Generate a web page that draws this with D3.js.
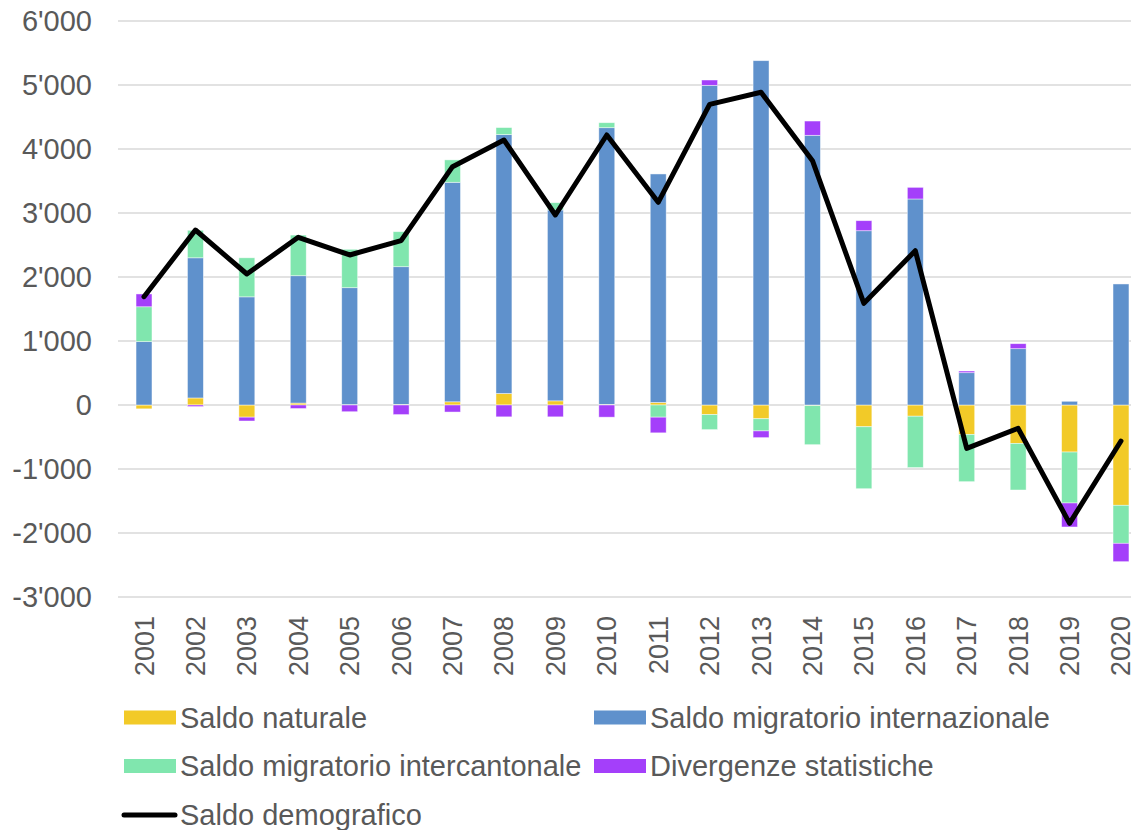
<!DOCTYPE html>
<html><head><meta charset="utf-8">
<script src="https://cdn.jsdelivr.net/npm/d3@7"></script>
<style>html,body{margin:0;padding:0;background:#fff;}svg{display:block;font-family:"Liberation Sans",Arial,sans-serif;}</style>
</head><body>
<svg id="c" width="1131" height="830"></svg>
<script>
const years = ["2001","2002","2003","2004","2005","2006","2007","2008","2009","2010","2011","2012","2013","2014","2015","2016","2017","2018","2019","2020"];
const saldoNaturale = [-60, 110, -190, 30, 5, 10, 50, 180, 65, 10, 40, -150, -215, -10, -340, -175, -460, -600, -735, -1567];
const saldoInternazionale = [990, 2190, 1690, 1990, 1828, 2151, 3430, 4045, 2982, 4323, 3570, 4995, 5380, 4214, 2723, 3219, 505, 880, 58, 1891];
const saldoIntercantonale = [545, 430, 610, 635, 600, 547, 350, 110, 114, 78, -190, -235, -190, -610, -968, -803, -738, -728, -796, -594];
const divergenze = [200, -25, -60, -55, -105, -150, -110, -185, -185, -190, -245, 83, -105, 223, 157, 182, 26, 78, -375, -287];
const saldoDemografico = [1692, 2734, 2047, 2620, 2344, 2568, 3724, 4141, 2969, 4219, 3167, 4698, 4886, 3817, 1589, 2411, -677, -365, -1849, -563];
const yTicks = [-3000, -2000, -1000, 0, 1000, 2000, 3000, 4000, 5000, 6000];

const seriesNames = ["Saldo naturale","Saldo migratorio internazionale","Saldo migratorio intercantonale","Divergenze statistiche"];
const seriesValues = [saldoNaturale, saldoInternazionale, saldoIntercantonale, divergenze];
const colors = ["#F2CA28","#5F91CC","#80E6AE","#A43FFA"];

const svg = d3.select("#c");
const x = d3.scaleBand().domain(years).range([118.3, 1146.7]).paddingInner(0.69).paddingOuter(0.345);
const y = d3.scaleLinear().domain([-3000, 6000]).range([597, 21]);

const fmt = v => (v < 0 ? "-" : "") + d3.format(",")(Math.abs(v)).replace(/,/g, "'");

// gridlines
svg.append("g").selectAll("line").data(yTicks).join("line")
  .attr("x1", 118).attr("x2", 1131)
  .attr("y1", d => y(d)).attr("y2", d => y(d))
  .attr("stroke", "#D9D9D9").attr("stroke-width", 1.3);

// y labels
svg.append("g").selectAll("text").data(yTicks).join("text")
  .attr("x", 92).attr("y", d => y(d)).attr("dy", "0.36em")
  .attr("text-anchor", "end").attr("fill", "#595959").attr("font-size", 29)
  .text(d => fmt(d));

// stacked data
const table = years.map((yr, i) => {
  const o = {year: yr};
  seriesNames.forEach((n, j) => o[n] = seriesValues[j][i]);
  return o;
});
const stacked = d3.stack().keys(seriesNames).offset(d3.stackOffsetDiverging)(table);

svg.append("g").selectAll("g").data(stacked).join("g")
  .attr("fill", (d, i) => colors[i])
  .selectAll("rect").data(d => d).join("rect")
  .attr("x", d => x(d.data.year))
  .attr("width", x.bandwidth())
  .attr("y", d => y(Math.max(d[0], d[1])))
  .attr("height", d => Math.abs(y(d[0]) - y(d[1])))
  .attr("stroke", "#ffffff").attr("stroke-opacity", 0.6).attr("stroke-width", 0.75);

// line
const line = d3.line().x((d, i) => x(years[i]) + x.bandwidth() / 2).y(d => y(d));
svg.append("path").datum(saldoDemografico)
  .attr("d", line).attr("fill", "none").attr("stroke", "#000")
  .attr("stroke-width", 5).attr("stroke-linejoin", "round").attr("stroke-linecap", "round");

// x labels
svg.append("g").selectAll("text").data(years).join("text")
  .attr("transform", d => `translate(${x(d) + x.bandwidth() / 2 + 9.5},616) rotate(-90)`)
  .attr("text-anchor", "end").attr("fill", "#595959").attr("font-size", 27)
  .text(d => d);

// legend
const legendItems = [
  {name: seriesNames[0], color: colors[0], x: 124, y: 717.5, type: "rect"},
  {name: seriesNames[1], color: colors[1], x: 594, y: 717.5, type: "rect"},
  {name: seriesNames[2], color: colors[2], x: 124, y: 766, type: "rect"},
  {name: seriesNames[3], color: colors[3], x: 594, y: 766, type: "rect"},
  {name: "Saldo demografico", color: "#000", x: 124, y: 815, type: "line"}
];
const lg = svg.append("g").selectAll("g").data(legendItems).join("g")
  .attr("transform", d => `translate(${d.x},${d.y})`);
lg.filter(d => d.type === "rect").append("rect")
  .attr("x", 0).attr("y", -7).attr("width", 52).attr("height", 14).attr("fill", d => d.color);
lg.filter(d => d.type === "line").append("line")
  .attr("x1", 0).attr("x2", 51).attr("y1", 0).attr("y2", 0)
  .attr("stroke", "#000").attr("stroke-width", 5).attr("stroke-linecap", "round");
lg.append("text").attr("x", 56).attr("y", 0).attr("dy", "0.36em")
  .attr("fill", "#595959").attr("font-size", 29).text(d => d.name);
</script>
</body></html>
